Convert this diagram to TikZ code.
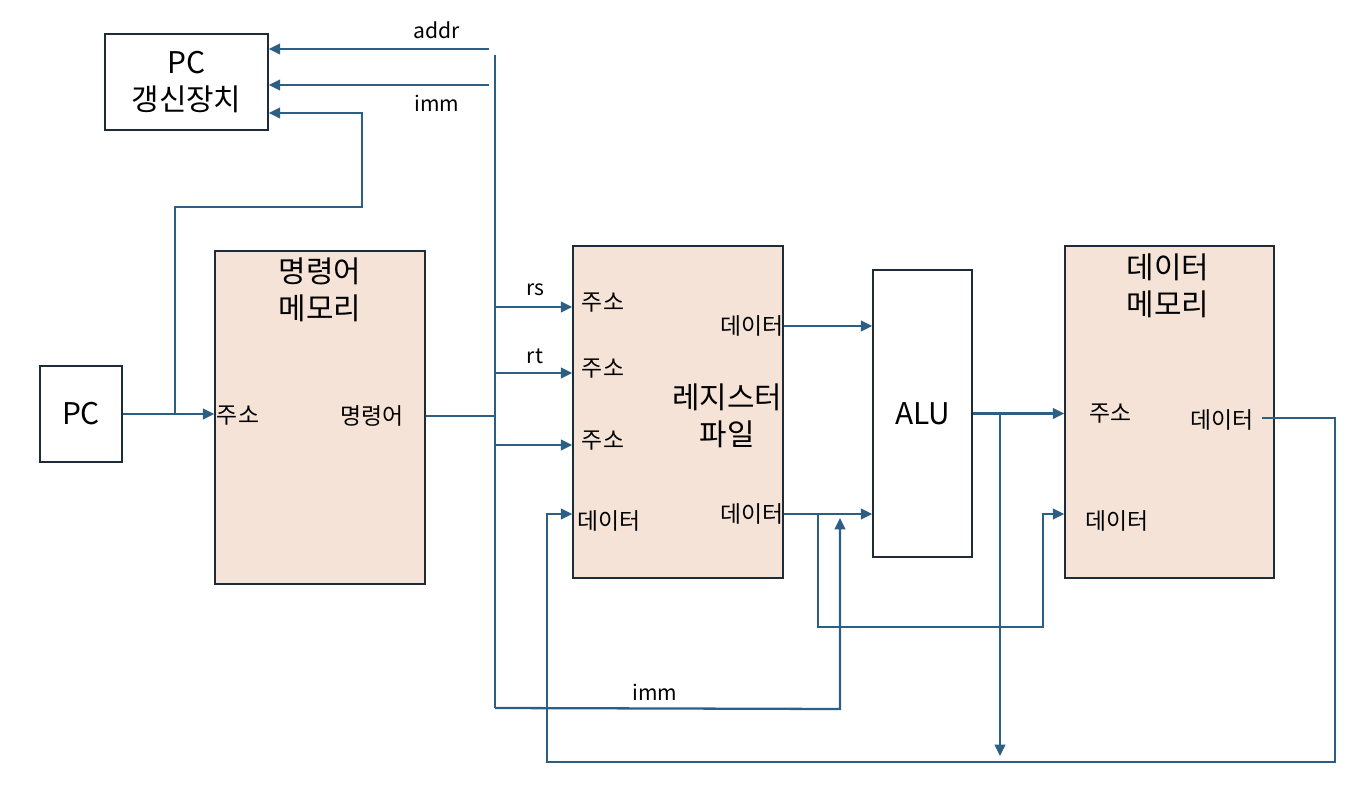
\documentclass[tikz,border=0pt]{standalone}
\usepackage{fontspec}
\setmainfont{Noto Sans CJK KR}
\usepackage{xcolor}
\usetikzlibrary{arrows.meta, positioning, calc}
\definecolor{wire-blue}{HTML}{2D5F84}
\definecolor{mem-fill}{HTML}{F5E3D8}
\definecolor{box-line}{HTML}{1E2B38}

\tikzset{
  unit/.style={draw=box-line, line width=0.9pt, fill=white, inner sep=0pt},
  memunit/.style={unit, fill=mem-fill},
  bigtxt/.style={font=\fontsize{17}{21}\selectfont, align=center},
  smalltxt/.style={font=\fontsize{13}{15}\selectfont, inner sep=1pt},
  wiretxt/.style={font=\fontsize{12}{14}\selectfont, inner sep=1pt},
  wire/.style={wire-blue, line width=1.3pt},
}

\begin{document}
\begin{tikzpicture}[x=0.02cm, y=-0.02cm, >={Triangle[length=6.5pt,width=6pt]}]
    \useasboundingbox (0,0) rectangle (1368,786);

    % Units
    \node[unit, bigtxt, minimum width=3.26cm, minimum height=1.92cm] (pcu) at (186.5,82) {PC\\갱신장치};
    \node[unit, bigtxt, minimum width=1.64cm, minimum height=1.92cm] (pc) at (81,414) {PC};
    \node[memunit, minimum width=4.2cm, minimum height=6.66cm] (imem) at (320,417.5) {};
    \node[memunit, minimum width=4.2cm, minimum height=6.64cm] (rf) at (678,412) {};
    \node[unit, bigtxt, minimum width=1.98cm, minimum height=5.74cm] (alu) at (922.5,413.5) {ALU};
    \node[memunit, minimum width=4.18cm, minimum height=6.64cm] (dm) at (1169.5,412) {};

    % Titles
    \node[bigtxt] (imemTitle) at (320,290) {명령어\\메모리};
    \node[bigtxt] (rfTitle) at (727,416) {레지스터\\파일};
    \node[bigtxt] (dmTitle) at (1168,286) {데이터\\메모리};

    % Port labels
    \node[smalltxt] (imemAddr) at (238,416) {주소};
    \node[smalltxt] (imemOp) at (372,416) {명령어};
    \node[smalltxt] (rfWriteLbl) at (609,521) {데이터};
    \node[smalltxt] (rfOutA) at (752,326) {데이터};
    \node[smalltxt] (rfOutB) at (752,514) {데이터};
    \node[smalltxt] (dmAddr) at (1110,414) {주소};
    \node[smalltxt] (dmOut) at (1222,420) {데이터};
    \node[smalltxt] (dmWriteLbl) at (1117,521) {데이터};

    % Instruction bus
    \coordinate (busTop) at (495,55);
    \coordinate (busBot) at (495,708);
    \draw[wire] (busTop) -- (busBot);
    \draw[wire] (imemOp -| imem.east) -- (imemOp -| busTop);

    % PC update inputs
    \coordinate (addrSrc) at (489,49);
    \coordinate (immSrc) at (489,85);
    \draw[wire, ->] (addrSrc) -- (addrSrc -| pcu.east);
    \draw[wire, ->] (immSrc) -- (immSrc -| pcu.east);
    \node[wiretxt] (addrLbl) at (437,30) {addr};
    \node[wiretxt] (immTopLbl) at (437,103) {imm};

    % PC to instruction memory, and back to PC update
    \draw[wire, ->] (pc.east) -- (pc.east -| imem.west);
    \coordinate (pcTap) at (175,414);
    \coordinate (fbCorner) at (362,207);
    \coordinate (fbTop) at (362,113);
    \draw[wire, ->] (pcTap) |- (fbCorner) -- (fbTop) -- (fbTop -| pcu.east);

    % Register addresses
    \foreach \y/\n in {307/1, 373/2, 445/3} {
        \coordinate (tap\n) at (495,\y);
        \draw[wire, ->] (tap\n) -- (tap\n -| rf.west);
        \node[smalltxt] (rfAddr\n) at (603,\y-4) {주소};
    }
    \node[wiretxt] (rsLbl) at (535,290) {rs};
    \node[wiretxt] (rtLbl) at (535,356) {rt};

    % Register outputs to ALU
    \draw[wire, ->] (rfOutA -| rf.east) -- (rfOutA -| alu.west);
    \draw[wire, ->] (rfOutB -| rf.east) -- (rfOutB -| alu.west);

    % Store data to data memory
    \coordinate (dmFeedTap) at (818,514);
    \coordinate (dmFeedLow) at (1043,627);
    \coordinate (dmFeedIn) at (1043,514);
    \draw[wire, ->] (dmFeedTap) |- (dmFeedLow) -- (dmFeedIn) -- (dmFeedIn -| dm.west);

    % Immediate to ALU
    \coordinate (immTurn) at (840,709);
    \coordinate (immTip) at (840,518);
    \draw[wire, ->] (busBot) -- (immTurn) -- (immTip);
    \node[wiretxt] (immLowLbl) at (655,692) {imm};

    % ALU result
    \draw[wire, ->] (alu.east) -- (alu.east -| dm.west);
    \coordinate (wbTap) at (1000,413.5);
    \coordinate (wbEnd) at (1000,756);
    \draw[wire, ->] (wbTap) -- (wbEnd);

    % Write back from data memory
    \coordinate (dmOutStart) at (1262,418);
    \coordinate (dmOutTurn) at (1335,418);
    \coordinate (wbLow) at (547,762);
    \coordinate (rfWrite) at (547,514);
    \draw[wire, ->] (dmOutStart) -- (dmOutTurn) |- (wbLow) -- (rfWrite) -- (rfWrite -| rf.west);
\end{tikzpicture}
\end{document}
